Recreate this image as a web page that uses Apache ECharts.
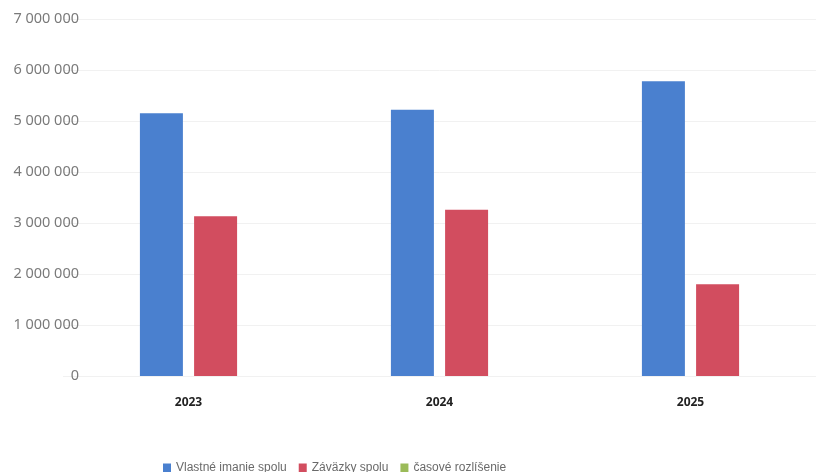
<!DOCTYPE html>
<html>
<head>
<meta charset="utf-8">
<script src="https://cdn.jsdelivr.net/npm/echarts@6/dist/echarts.min.js"></script>
<style>html,body{margin:0;padding:0;background:#fff}#c{width:821px;height:472px}</style>
</head>
<body>
<div id="c"></div>
<script>
const categories = ['2023', '2024', '2025'];
const seriesNames = ['Vlastné imanie spolu', 'Záväzky spolu', 'časové rozlíšenie'];
const equity = [5150000, 5220000, 5780000];
const liabilities = [3130000, 3260000, 1800000];
const accruals = [0, 0, 0];
const yTicks = [0, 1000000, 2000000, 3000000, 4000000, 5000000, 6000000, 7000000];

const colors = ['#4a80cf', '#d24d5f', '#9bbb59'];
const fmt = v => String(v).replace(/\B(?=(\d{3})+(?!\d))/g, ' ');

const chart = echarts.init(document.getElementById('c'), null, {renderer: 'canvas'});
chart.setOption({
  animation: false,
  color: colors,
  textStyle: {fontFamily: 'Noto Sans'},
  grid: {left: 63, right: 5, top: 19, bottom: 96},
  legend: {
    data: seriesNames,
    left: 158, top: 457,
    itemWidth: 8, itemHeight: 9, itemGap: 12,
    icon: 'rect',
    textStyle: {color: '#6a6a6a', fontSize: 12, fontFamily: "'Liberation Sans', sans-serif"}
  },
  xAxis: {
    type: 'category',
    data: categories,
    axisLine: {show: false},
    axisTick: {show: false},
    axisLabel: {color: '#222', fontSize: 12, fontWeight: 'bold', margin: 21}
  },
  yAxis: {
    type: 'value',
    min: yTicks[0], max: yTicks[yTicks.length - 1], interval: 1000000,
    axisLine: {show: false},
    axisTick: {show: false},
    splitLine: {lineStyle: {color: '#f1f1f1', width: 1}},
    axisLabel: {color: '#7a7a7a', fontSize: 14.5, margin: -16, formatter: fmt}
  },
  series: [
    {name: seriesNames[0], type: 'bar', data: equity, barWidth: 43, barGap: '26%', barCategoryGap: '61%'},
    {name: seriesNames[1], type: 'bar', data: liabilities, barWidth: 43, barGap: '26%', stack: 'r'},
    {name: seriesNames[2], type: 'bar', data: accruals, barWidth: 43, barGap: '26%', stack: 'r'}
  ]
});
</script>
</body>
</html>
